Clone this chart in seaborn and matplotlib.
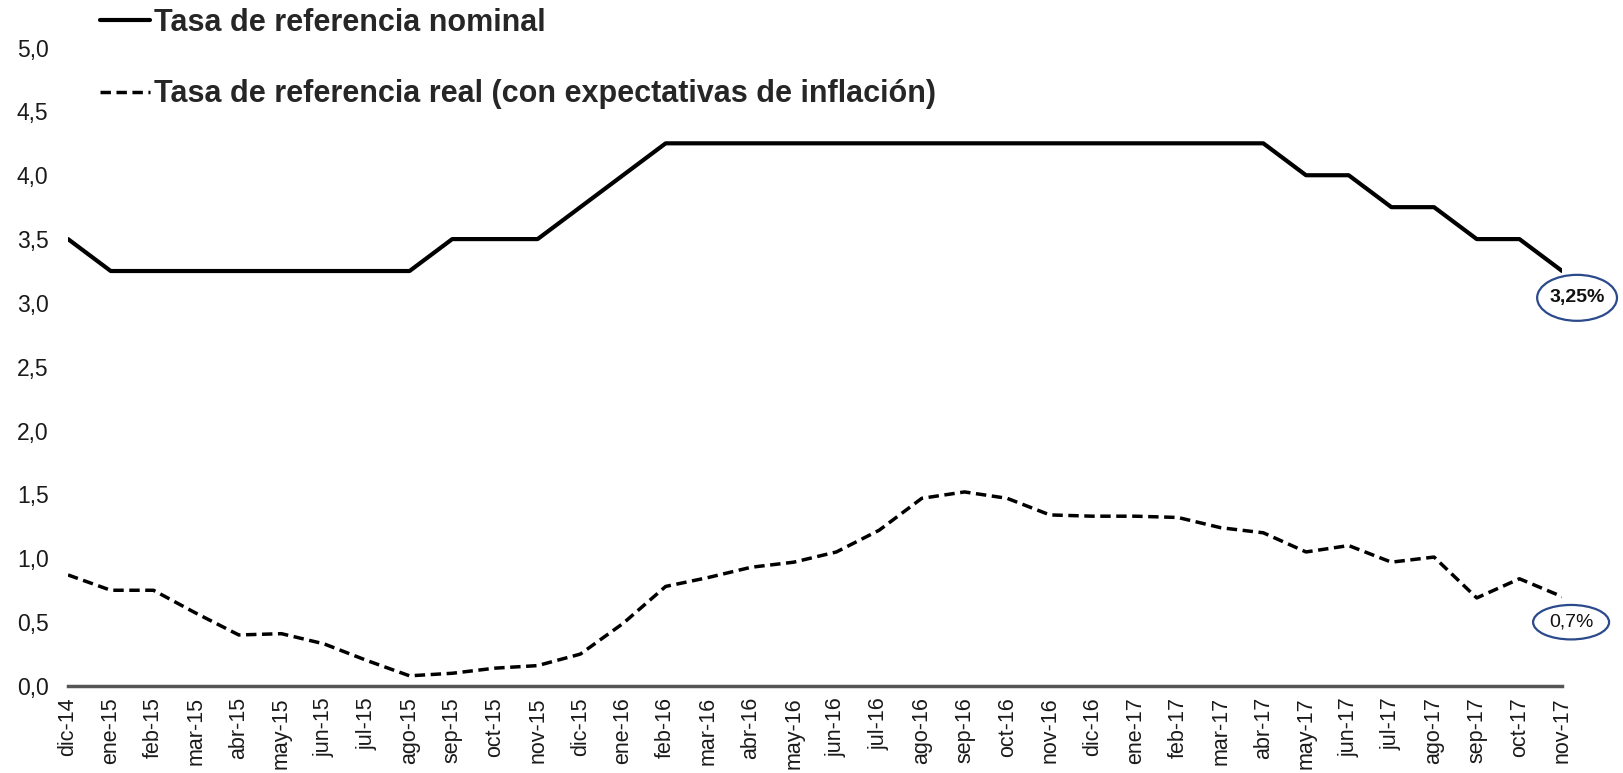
import matplotlib
matplotlib.use("Agg")
import matplotlib.pyplot as plt
import seaborn as sns
import pandas as pd
from matplotlib.lines import Line2D
from matplotlib.patches import Ellipse
from matplotlib import font_manager

months = ["dic-14", "ene-15", "feb-15", "mar-15", "abr-15", "may-15", "jun-15", "jul-15",
          "ago-15", "sep-15", "oct-15", "nov-15", "dic-15", "ene-16", "feb-16", "mar-16",
          "abr-16", "may-16", "jun-16", "jul-16", "ago-16", "sep-16", "oct-16", "nov-16",
          "dic-16", "ene-17", "feb-17", "mar-17", "abr-17", "may-17", "jun-17", "jul-17",
          "ago-17", "sep-17", "oct-17", "nov-17"]
nominal = [3.5, 3.25, 3.25, 3.25, 3.25, 3.25, 3.25, 3.25,
           3.25, 3.5, 3.5, 3.5, 3.75, 4.0, 4.25, 4.25,
           4.25, 4.25, 4.25, 4.25, 4.25, 4.25, 4.25, 4.25,
           4.25, 4.25, 4.25, 4.25, 4.25, 4.0, 4.0, 3.75,
           3.75, 3.5, 3.5, 3.25]
real = [0.87, 0.75, 0.75, 0.57, 0.40, 0.41, 0.33, 0.20,
        0.08, 0.10, 0.14, 0.16, 0.25, 0.49, 0.78, 0.85,
        0.93, 0.97, 1.05, 1.22, 1.47, 1.52, 1.47, 1.34,
        1.33, 1.33, 1.32, 1.24, 1.20, 1.05, 1.10, 0.97,
        1.01, 0.69, 0.84, 0.70]
series_names = ["Tasa de referencia nominal",
                "Tasa de referencia real (con expectativas de inflación)"]
yticks = [0.0, 0.5, 1.0, 1.5, 2.0, 2.5, 3.0, 3.5, 4.0, 4.5, 5.0]
ann_nominal = "3,25%"
ann_real = "0,7%"

sns.set_theme(style="white")
avail = {f.name for f in font_manager.fontManager.ttflist}
fam = "Liberation Sans Narrow" if "Liberation Sans Narrow" in avail else "Liberation Sans"
plt.rcParams['font.family'] = [fam, "DejaVu Sans"]

n = len(months)
df = pd.DataFrame({
    "x": list(range(n)) * 2,
    "valor": nominal + real,
    "serie": [series_names[0]] * n + [series_names[1]] * n,
})

fig = plt.figure(figsize=(16.24, 7.73), dpi=100)
ax = fig.add_axes([0.0419, 0.1125, 0.920, 0.826])

sns.lineplot(data=df[df.serie == series_names[0]], x="x", y="valor", color="black",
             linewidth=3, ax=ax, legend=False)
sns.lineplot(data=df[df.serie == series_names[1]], x="x", y="valor", color="black",
             linewidth=2.5, ax=ax, legend=False)
ax.lines[1].set_dashes([3, 1.6])

ax.set_xlim(0, n - 1)
ax.set_ylim(0, 5)
ax.set_xticks(range(n))
ax.set_xticklabels(months, rotation=90, fontsize=15.5, color="#1a1a1a")
ax.set_yticks(yticks)
ax.set_yticklabels([f"{v:.1f}".replace(".", ",") for v in yticks], fontsize=16.5, color="#1a1a1a")
ax.tick_params(axis="x", length=0, pad=8)
ax.tick_params(axis="y", length=0, pad=14)
ax.set_xlabel("")
ax.set_ylabel("")
for s in ["left", "right", "top"]:
    ax.spines[s].set_visible(False)
ax.spines["bottom"].set_color("#555555")
ax.spines["bottom"].set_linewidth(2.5)

h1 = Line2D([], [], color="black", linewidth=3)
h2 = Line2D([], [], color="black", linewidth=2.5, dashes=[3, 1.6])
fig.legend([h1, h2], series_names, loc="upper left", bbox_to_anchor=(0.052, 1.010),
           frameon=False, borderpad=0, handlelength=1.63, handletextpad=0.16,
           labelspacing=1.37,
           prop={"family": [fam, "DejaVu Sans"], "weight": "bold", "size": 22})

ell = "#2B4A8C"
cx1, cy1 = n - 1 + 0.35, nominal[-1] - 0.21
ax.add_patch(Ellipse((cx1, cy1), width=1.87, height=0.36,
                     fc="white", ec=ell, lw=1.6, clip_on=False, zorder=5))
ax.text(cx1, cy1, ann_nominal, ha="center", va="center",
        fontsize=14, fontweight="bold", clip_on=False, zorder=6, color="#111111")
cx2, cy2 = n - 1 + 0.21, real[-1] - 0.20
ax.add_patch(Ellipse((cx2, cy2), width=1.78, height=0.27,
                     fc="white", ec=ell, lw=1.6, clip_on=False, zorder=5))
ax.text(cx2, cy2, ann_real, ha="center", va="center",
        fontsize=14, clip_on=False, zorder=6, color="#111111")

fig.savefig("out.png", dpi=100)
